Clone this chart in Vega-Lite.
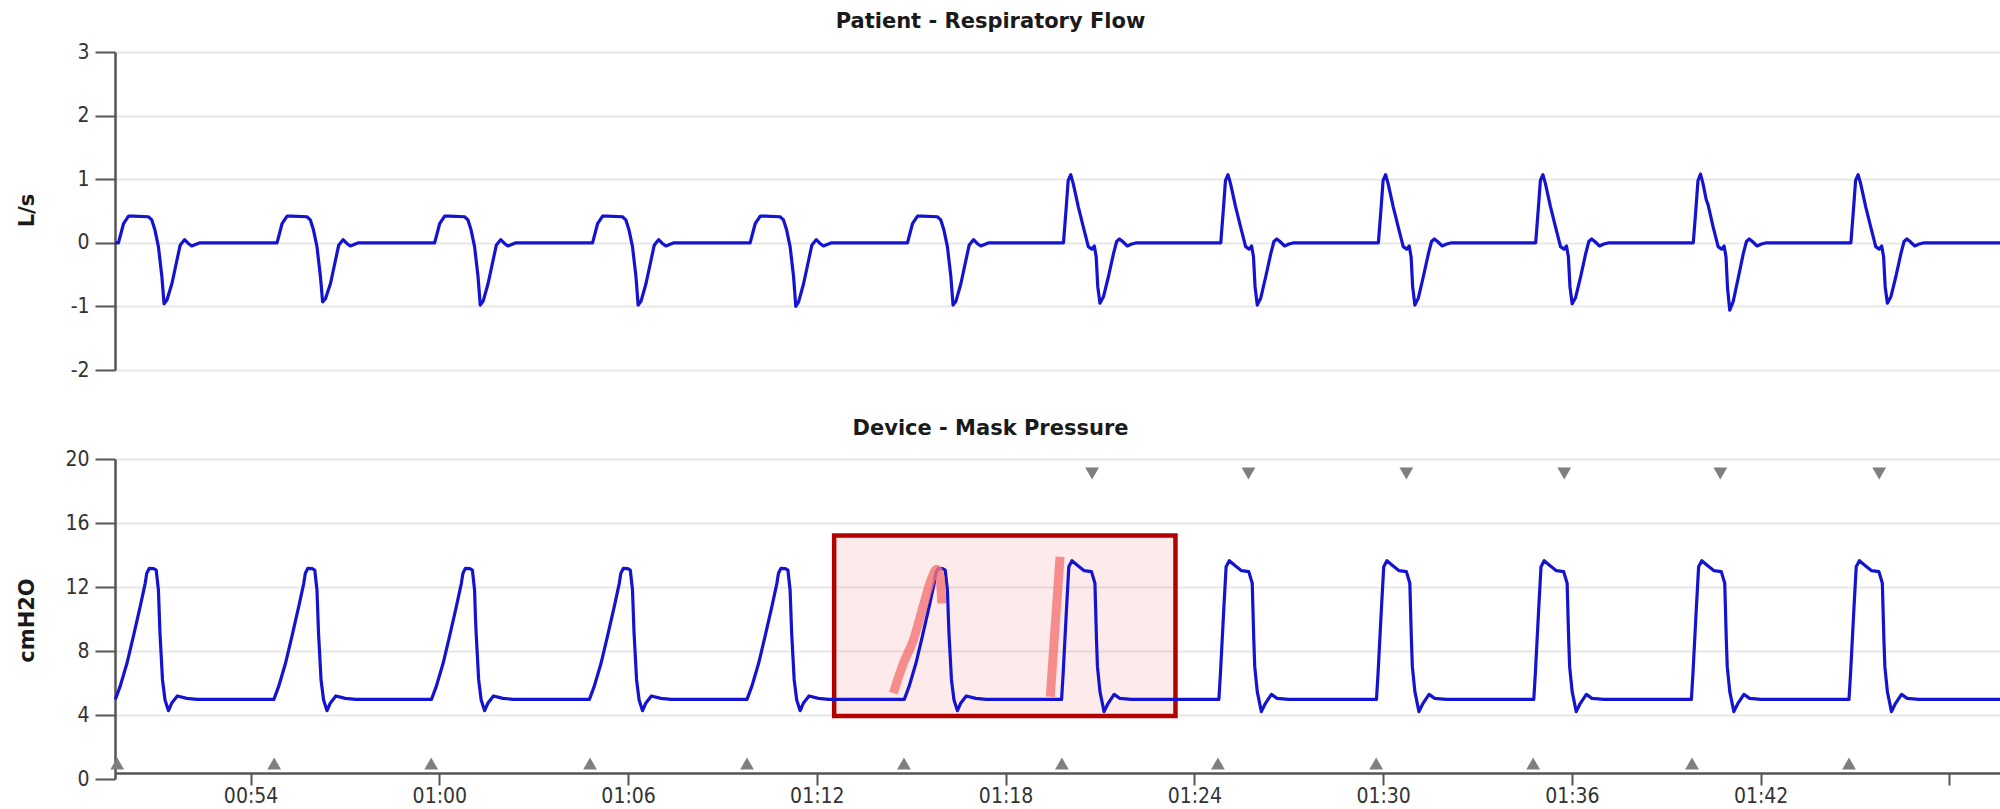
{
"$schema": "https://vega.github.io/schema/vega-lite/v6.json",
"background": "white",
"padding": {"left": 16, "top": 11, "right": 0, "bottom": 0},
"bounds": "flush",
"spacing": 89,
"datasets": {
"flow": [
{"t":49.69,"v":0},
{"t":49.80,"v":0},{"t":49.96,"v":0.30},{"t":50.12,"v":0.42},{"t":50.27,"v":0.42},{"t":50.75,"v":0.41},{"t":50.86,"v":0.36},{"t":50.96,"v":0.20},{"t":51.07,"v":-0.06},{"t":51.18,"v":-0.53},{"t":51.25,"v":-0.96},{"t":51.34,"v":-0.90},{"t":51.50,"v":-0.64},{"t":51.66,"v":-0.27},{"t":51.76,"v":-0.04},{"t":51.90,"v":0.05},{"t":52.02,"v":-0.01},{"t":52.13,"v":-0.05},{"t":52.29,"v":-0.02},{"t":52.39,"v":0},
{"t":54.84,"v":0},{"t":55.00,"v":0.30},{"t":55.16,"v":0.42},{"t":55.31,"v":0.42},{"t":55.79,"v":0.41},{"t":55.90,"v":0.36},{"t":56.00,"v":0.20},{"t":56.11,"v":-0.06},{"t":56.22,"v":-0.53},{"t":56.29,"v":-0.93},{"t":56.38,"v":-0.88},{"t":56.54,"v":-0.64},{"t":56.70,"v":-0.27},{"t":56.80,"v":-0.04},{"t":56.94,"v":0.05},{"t":57.06,"v":-0.01},{"t":57.17,"v":-0.05},{"t":57.33,"v":-0.02},{"t":57.43,"v":0},
{"t":59.85,"v":0},{"t":60.01,"v":0.30},{"t":60.17,"v":0.42},{"t":60.32,"v":0.42},{"t":60.80,"v":0.41},{"t":60.91,"v":0.36},{"t":61.01,"v":0.20},{"t":61.12,"v":-0.06},{"t":61.23,"v":-0.53},{"t":61.30,"v":-0.98},{"t":61.39,"v":-0.92},{"t":61.55,"v":-0.64},{"t":61.71,"v":-0.27},{"t":61.81,"v":-0.04},{"t":61.95,"v":0.05},{"t":62.07,"v":-0.01},{"t":62.18,"v":-0.05},{"t":62.34,"v":-0.02},{"t":62.44,"v":0},
{"t":64.87,"v":0},{"t":65.03,"v":0.30},{"t":65.19,"v":0.42},{"t":65.34,"v":0.42},{"t":65.82,"v":0.41},{"t":65.93,"v":0.36},{"t":66.03,"v":0.20},{"t":66.14,"v":-0.06},{"t":66.25,"v":-0.53},{"t":66.32,"v":-0.98},{"t":66.41,"v":-0.92},{"t":66.57,"v":-0.64},{"t":66.73,"v":-0.27},{"t":66.83,"v":-0.04},{"t":66.97,"v":0.05},{"t":67.09,"v":-0.01},{"t":67.20,"v":-0.05},{"t":67.36,"v":-0.02},{"t":67.46,"v":0},
{"t":69.88,"v":0},{"t":70.04,"v":0.30},{"t":70.20,"v":0.42},{"t":70.35,"v":0.42},{"t":70.83,"v":0.41},{"t":70.94,"v":0.36},{"t":71.04,"v":0.20},{"t":71.15,"v":-0.06},{"t":71.26,"v":-0.53},{"t":71.33,"v":-1.00},{"t":71.42,"v":-0.93},{"t":71.58,"v":-0.64},{"t":71.74,"v":-0.27},{"t":71.84,"v":-0.04},{"t":71.98,"v":0.05},{"t":72.10,"v":-0.01},{"t":72.21,"v":-0.05},{"t":72.37,"v":-0.02},{"t":72.47,"v":0},
{"t":74.88,"v":0},{"t":75.04,"v":0.30},{"t":75.20,"v":0.42},{"t":75.35,"v":0.42},{"t":75.83,"v":0.41},{"t":75.94,"v":0.36},{"t":76.04,"v":0.20},{"t":76.15,"v":-0.06},{"t":76.26,"v":-0.53},{"t":76.33,"v":-0.98},{"t":76.42,"v":-0.92},{"t":76.58,"v":-0.64},{"t":76.74,"v":-0.27},{"t":76.84,"v":-0.04},{"t":76.98,"v":0.05},{"t":77.10,"v":-0.01},{"t":77.21,"v":-0.05},{"t":77.37,"v":-0.02},{"t":77.47,"v":0},
{"t":79.84,"v":0},{"t":79.92,"v":0.51},{"t":79.99,"v":0.98},{"t":80.07,"v":1.07},{"t":80.15,"v":0.93},{"t":80.31,"v":0.57},{"t":80.47,"v":0.25},{"t":80.63,"v":-0.06},{"t":80.74,"v":-0.10},{"t":80.82,"v":-0.05},{"t":80.88,"v":-0.22},{"t":80.93,"v":-0.69},{"t":81.00,"v":-0.95},{"t":81.11,"v":-0.85},{"t":81.27,"v":-0.53},{"t":81.43,"v":-0.17},{"t":81.53,"v":0.02},{"t":81.62,"v":0.06},{"t":81.72,"v":0.02},{"t":81.87,"v":-0.05},{"t":82.01,"v":-0.02},{"t":82.17,"v":0},
{"t":84.84,"v":0},{"t":84.92,"v":0.51},{"t":84.99,"v":0.98},{"t":85.07,"v":1.07},{"t":85.15,"v":0.93},{"t":85.31,"v":0.57},{"t":85.47,"v":0.25},{"t":85.63,"v":-0.06},{"t":85.74,"v":-0.10},{"t":85.82,"v":-0.05},{"t":85.88,"v":-0.22},{"t":85.93,"v":-0.69},{"t":86.00,"v":-0.98},{"t":86.11,"v":-0.87},{"t":86.27,"v":-0.53},{"t":86.43,"v":-0.17},{"t":86.53,"v":0.02},{"t":86.62,"v":0.06},{"t":86.72,"v":0.02},{"t":86.87,"v":-0.05},{"t":87.01,"v":-0.02},{"t":87.17,"v":0},
{"t":89.85,"v":0},{"t":89.93,"v":0.51},{"t":90.00,"v":0.98},{"t":90.08,"v":1.07},{"t":90.16,"v":0.93},{"t":90.32,"v":0.57},{"t":90.48,"v":0.25},{"t":90.64,"v":-0.06},{"t":90.75,"v":-0.10},{"t":90.83,"v":-0.05},{"t":90.89,"v":-0.22},{"t":90.94,"v":-0.69},{"t":91.01,"v":-0.98},{"t":91.12,"v":-0.87},{"t":91.28,"v":-0.53},{"t":91.44,"v":-0.17},{"t":91.54,"v":0.02},{"t":91.63,"v":0.06},{"t":91.73,"v":0.02},{"t":91.88,"v":-0.05},{"t":92.02,"v":-0.02},{"t":92.18,"v":0},
{"t":94.85,"v":0},{"t":94.93,"v":0.51},{"t":95.00,"v":0.98},{"t":95.08,"v":1.07},{"t":95.16,"v":0.93},{"t":95.32,"v":0.57},{"t":95.48,"v":0.25},{"t":95.64,"v":-0.06},{"t":95.75,"v":-0.10},{"t":95.83,"v":-0.05},{"t":95.89,"v":-0.22},{"t":95.94,"v":-0.69},{"t":96.01,"v":-0.96},{"t":96.12,"v":-0.86},{"t":96.28,"v":-0.53},{"t":96.44,"v":-0.17},{"t":96.54,"v":0.02},{"t":96.63,"v":0.06},{"t":96.73,"v":0.02},{"t":96.88,"v":-0.05},{"t":97.02,"v":-0.02},{"t":97.18,"v":0},
{"t":99.86,"v":0},{"t":99.94,"v":0.51},{"t":100.01,"v":0.98},{"t":100.09,"v":1.08},{"t":100.17,"v":0.93},{"t":100.27,"v":0.68},{"t":100.33,"v":0.60},{"t":100.49,"v":0.25},{"t":100.65,"v":-0.06},{"t":100.76,"v":-0.10},{"t":100.84,"v":-0.05},{"t":100.90,"v":-0.22},{"t":100.95,"v":-0.72},{"t":101.02,"v":-1.06},{"t":101.13,"v":-0.92},{"t":101.29,"v":-0.55},{"t":101.45,"v":-0.17},{"t":101.55,"v":0.02},{"t":101.64,"v":0.06},{"t":101.74,"v":0.02},{"t":101.89,"v":-0.05},{"t":102.03,"v":-0.02},{"t":102.19,"v":0},
{"t":104.87,"v":0},{"t":104.95,"v":0.51},{"t":105.02,"v":0.98},{"t":105.10,"v":1.07},{"t":105.18,"v":0.93},{"t":105.34,"v":0.57},{"t":105.50,"v":0.25},{"t":105.66,"v":-0.06},{"t":105.77,"v":-0.10},{"t":105.85,"v":-0.05},{"t":105.91,"v":-0.22},{"t":105.96,"v":-0.69},{"t":106.03,"v":-0.95},{"t":106.14,"v":-0.85},{"t":106.30,"v":-0.53},{"t":106.46,"v":-0.17},{"t":106.56,"v":0.02},{"t":106.65,"v":0.06},{"t":106.75,"v":0.02},{"t":106.90,"v":-0.05},{"t":107.04,"v":-0.02},{"t":107.20,"v":0},
{"t":109.61,"v":0}
],
"pressure": [
{"t":49.70,"v":4.98},{"t":49.85,"v":5.77},{"t":50.07,"v":7.23},{"t":50.27,"v":8.89},{"t":50.49,"v":10.77},{"t":50.65,"v":12.23},{"t":50.70,"v":12.86},{"t":50.78,"v":13.17},{"t":50.92,"v":13.15},{"t":51.00,"v":13.06},{"t":51.07,"v":11.81},{"t":51.12,"v":9.11},{"t":51.20,"v":6.19},{"t":51.28,"v":4.94},{"t":51.39,"v":4.27},{"t":51.49,"v":4.73},{"t":51.67,"v":5.19},{"t":51.97,"v":5.04},{"t":52.30,"v":4.98},
{"t":54.74,"v":4.98},{"t":54.89,"v":5.77},{"t":55.11,"v":7.23},{"t":55.31,"v":8.89},{"t":55.53,"v":10.77},{"t":55.69,"v":12.23},{"t":55.74,"v":12.86},{"t":55.82,"v":13.17},{"t":55.96,"v":13.15},{"t":56.04,"v":13.06},{"t":56.11,"v":11.81},{"t":56.16,"v":9.11},{"t":56.24,"v":6.19},{"t":56.32,"v":4.94},{"t":56.43,"v":4.27},{"t":56.53,"v":4.73},{"t":56.71,"v":5.19},{"t":57.01,"v":5.04},{"t":57.34,"v":4.98},
{"t":59.75,"v":4.98},{"t":59.90,"v":5.77},{"t":60.12,"v":7.23},{"t":60.32,"v":8.89},{"t":60.54,"v":10.77},{"t":60.70,"v":12.23},{"t":60.75,"v":12.86},{"t":60.83,"v":13.17},{"t":60.97,"v":13.15},{"t":61.05,"v":13.06},{"t":61.12,"v":11.81},{"t":61.15,"v":10.0},{"t":61.17,"v":9.11},{"t":61.25,"v":6.19},{"t":61.33,"v":4.94},{"t":61.44,"v":4.27},{"t":61.54,"v":4.73},{"t":61.72,"v":5.19},{"t":62.02,"v":5.04},{"t":62.35,"v":4.98},
{"t":64.77,"v":4.98},{"t":64.92,"v":5.77},{"t":65.14,"v":7.23},{"t":65.34,"v":8.89},{"t":65.56,"v":10.77},{"t":65.72,"v":12.23},{"t":65.77,"v":12.86},{"t":65.85,"v":13.17},{"t":65.99,"v":13.15},{"t":66.07,"v":13.06},{"t":66.14,"v":11.81},{"t":66.19,"v":9.11},{"t":66.27,"v":6.19},{"t":66.35,"v":4.94},{"t":66.46,"v":4.27},{"t":66.56,"v":4.73},{"t":66.74,"v":5.19},{"t":67.04,"v":5.04},{"t":67.37,"v":4.98},
{"t":69.78,"v":4.98},{"t":69.93,"v":5.77},{"t":70.15,"v":7.23},{"t":70.35,"v":8.89},{"t":70.57,"v":10.77},{"t":70.73,"v":12.23},{"t":70.78,"v":12.86},{"t":70.86,"v":13.17},{"t":71.00,"v":13.15},{"t":71.08,"v":13.06},{"t":71.15,"v":11.81},{"t":71.20,"v":9.11},{"t":71.28,"v":6.19},{"t":71.36,"v":4.94},{"t":71.47,"v":4.27},{"t":71.57,"v":4.73},{"t":71.75,"v":5.19},{"t":72.05,"v":5.04},{"t":72.38,"v":4.98},
{"t":74.78,"v":4.98},{"t":74.93,"v":5.77},{"t":75.15,"v":7.23},{"t":75.35,"v":8.89},{"t":75.57,"v":10.77},{"t":75.73,"v":12.23},{"t":75.78,"v":12.86},{"t":75.86,"v":13.17},{"t":76.00,"v":13.15},{"t":76.08,"v":13.06},{"t":76.15,"v":11.81},{"t":76.20,"v":9.11},{"t":76.28,"v":6.19},{"t":76.36,"v":4.94},{"t":76.47,"v":4.27},{"t":76.57,"v":4.73},{"t":76.75,"v":5.19},{"t":77.05,"v":5.04},{"t":77.38,"v":4.98},
{"t":79.78,"v":4.98},{"t":79.83,"v":6.61},{"t":79.94,"v":10.77},{"t":80.01,"v":13.27},{"t":80.11,"v":13.64},{"t":80.31,"v":13.31},{"t":80.50,"v":13.02},{"t":80.73,"v":12.96},{"t":80.84,"v":12.23},{"t":80.89,"v":8.69},{"t":80.92,"v":7.02},{"t":81.00,"v":5.46},{"t":81.13,"v":4.21},{"t":81.26,"v":4.73},{"t":81.45,"v":5.29},{"t":81.63,"v":5.04},{"t":82.00,"v":4.98},
{"t":84.78,"v":4.98},{"t":84.83,"v":6.61},{"t":84.94,"v":10.77},{"t":85.01,"v":13.27},{"t":85.11,"v":13.64},{"t":85.31,"v":13.31},{"t":85.50,"v":13.02},{"t":85.73,"v":12.96},{"t":85.84,"v":12.23},{"t":85.89,"v":8.69},{"t":85.92,"v":7.02},{"t":86.00,"v":5.46},{"t":86.13,"v":4.21},{"t":86.26,"v":4.73},{"t":86.45,"v":5.29},{"t":86.63,"v":5.04},{"t":87.00,"v":4.98},
{"t":89.79,"v":4.98},{"t":89.84,"v":6.61},{"t":89.95,"v":10.77},{"t":90.02,"v":13.27},{"t":90.12,"v":13.64},{"t":90.32,"v":13.31},{"t":90.51,"v":13.02},{"t":90.74,"v":12.96},{"t":90.85,"v":12.23},{"t":90.90,"v":8.69},{"t":90.93,"v":7.02},{"t":91.01,"v":5.46},{"t":91.14,"v":4.21},{"t":91.27,"v":4.73},{"t":91.46,"v":5.29},{"t":91.64,"v":5.04},{"t":92.01,"v":4.98},
{"t":94.79,"v":4.98},{"t":94.84,"v":6.61},{"t":94.95,"v":10.77},{"t":95.02,"v":13.27},{"t":95.12,"v":13.64},{"t":95.32,"v":13.31},{"t":95.51,"v":13.02},{"t":95.74,"v":12.96},{"t":95.85,"v":12.23},{"t":95.90,"v":8.69},{"t":95.93,"v":7.02},{"t":96.01,"v":5.46},{"t":96.14,"v":4.21},{"t":96.27,"v":4.73},{"t":96.46,"v":5.29},{"t":96.64,"v":5.04},{"t":97.01,"v":4.98},
{"t":99.80,"v":4.98},{"t":99.85,"v":6.61},{"t":99.96,"v":10.77},{"t":100.03,"v":13.27},{"t":100.13,"v":13.64},{"t":100.33,"v":13.31},{"t":100.52,"v":13.02},{"t":100.75,"v":12.96},{"t":100.86,"v":12.23},{"t":100.91,"v":8.69},{"t":100.94,"v":7.02},{"t":101.02,"v":5.46},{"t":101.15,"v":4.21},{"t":101.28,"v":4.73},{"t":101.47,"v":5.29},{"t":101.65,"v":5.04},{"t":102.02,"v":4.98},
{"t":104.81,"v":4.98},{"t":104.86,"v":6.61},{"t":104.97,"v":10.77},{"t":105.04,"v":13.27},{"t":105.14,"v":13.64},{"t":105.34,"v":13.31},{"t":105.53,"v":13.02},{"t":105.76,"v":12.96},{"t":105.87,"v":12.23},{"t":105.92,"v":8.69},{"t":105.95,"v":7.02},{"t":106.03,"v":5.46},{"t":106.16,"v":4.21},{"t":106.29,"v":4.73},{"t":106.48,"v":5.29},{"t":106.66,"v":5.04},{"t":107.03,"v":4.98},
{"t":109.61,"v":4.98}
],
"box": [{"t0":72.55,"t1":83.40,"p0":3.94,"p1":15.22}],
"marks": [
{"seg":"a","t":74.43,"v":5.36},{"seg":"a","t":74.75,"v":7.23},{"seg":"a","t":75.07,"v":8.69},{"seg":"a","t":75.39,"v":10.88},{"seg":"a","t":75.65,"v":12.54},{"seg":"a","t":75.81,"v":13.11},{"seg":"a","t":75.92,"v":12.64},{"seg":"a","t":75.97,"v":10.98},
{"seg":"b","t":79.42,"v":5.14},{"seg":"b","t":79.73,"v":13.89}
],
"up": [{"t":49.76,"v":0.97},{"t":54.75,"v":0.97},{"t":59.74,"v":0.97},{"t":64.79,"v":0.97},{"t":69.78,"v":0.97},{"t":74.77,"v":0.97},{"t":79.79,"v":0.97},{"t":84.75,"v":0.97},{"t":89.78,"v":0.97},{"t":94.77,"v":0.97},{"t":99.82,"v":0.97},{"t":104.81,"v":0.97}],
"down": [{"t":80.75,"v":19.09},{"t":85.72,"v":19.09},{"t":90.74,"v":19.09},{"t":95.76,"v":19.09},{"t":100.72,"v":19.09},{"t":105.77,"v":19.09}]
},
"vconcat": [
{
"width": 1885, "height": 318,
"title": {"text": "Patient - Respiratory Flow", "dx": -67},
"data": {"name": "flow"},
"mark": {"type": "line", "color": "#1414d0", "strokeWidth": 3.2, "strokeJoin": "round"},
"encoding": {
"x": {"field": "t", "type": "quantitative", "scale": {"domain": [49.69, 109.61], "nice": false, "zero": false}, "axis": null},
"y": {"field": "v", "type": "quantitative", "scale": {"domain": [-2, 3], "nice": false, "zero": false},
"axis": {"title": "L/s", "values": [-2, -1, 0, 1, 2, 3], "labelExpr": "'' + datum.value", "titleX": -88, "titleY": 158, "titleBaseline": "middle", "titleAngle": 270}}
}
},
{
"width": 1885, "height": 320,
"title": {"text": "Device - Mask Pressure", "dx": -67},
"layer": [
{
"data": {"name": "box"},
"mark": {"type": "rect", "fill": "#e00000", "fillOpacity": 0.08, "stroke": "#b30000", "strokeWidth": 4.5},
"encoding": {
"x": {"field": "t0", "type": "quantitative", "scale": {"domain": [49.69, 109.61], "nice": false, "zero": false},
"axis": {"title": null, "values": [54, 60, 66, 72, 78, 84, 90, 96, 102, 108], "offset": -6, "tickSize": 12, "labelPadding": 0, "grid": false,
"labelExpr": "datum.value >= 108 ? '' : (floor(datum.value/60) < 10 ? '0' : '') + floor(datum.value/60) + ':' + ((datum.value % 60) < 10 ? '0' : '') + (datum.value % 60)"}},
"x2": {"field": "t1"},
"y": {"field": "p0", "type": "quantitative", "scale": {"domain": [0, 20], "nice": false, "zero": false},
"axis": {"title": "cmH2O", "values": [0, 4, 8, 12, 16, 20], "titleX": -88, "titleY": 161, "titleBaseline": "middle", "titleAngle": 270,
"gridOpacity": {"condition": {"test": "datum.value === 0", "value": 0}, "value": 1}}},
"y2": {"field": "p1"}
}
},
{
"data": {"name": "pressure"},
"mark": {"type": "line", "color": "#1414d0", "strokeWidth": 3.2, "strokeJoin": "round"},
"encoding": {
"x": {"field": "t", "type": "quantitative"},
"y": {"field": "v", "type": "quantitative"}
}
},
{
"data": {"name": "marks"},
"mark": {"type": "line", "color": "#f47474", "opacity": 0.8, "strokeWidth": 9, "strokeCap": "butt", "interpolate": "monotone"},
"encoding": {
"x": {"field": "t", "type": "quantitative"},
"y": {"field": "v", "type": "quantitative"},
"detail": {"field": "seg"}
}
},
{
"data": {"name": "up"},
"mark": {"type": "point", "shape": "triangle-up", "filled": true, "size": 190, "color": "#7f7f7f", "opacity": 1},
"encoding": {
"x": {"field": "t", "type": "quantitative"},
"y": {"field": "v", "type": "quantitative"}
}
},
{
"data": {"name": "down"},
"mark": {"type": "point", "shape": "triangle-down", "filled": true, "size": 190, "color": "#7f7f7f", "opacity": 1},
"encoding": {
"x": {"field": "t", "type": "quantitative"},
"y": {"field": "v", "type": "quantitative"}
}
}
]
}
],
"config": {
"view": {"stroke": null},
"axis": {
"domainColor": "#555555", "domainWidth": 2.5, "tickColor": "#555555", "tickWidth": 2,
"labelFont": "Liberation Sans Narrow, DejaVu Sans Condensed, sans-serif", "labelFontSize": 21, "labelColor": "#333333",
"titleFont": "DejaVu Sans", "titleFontSize": 21, "titleFontWeight": "bold", "titleColor": "#1a1a1a",
"gridColor": "#e8e8e8", "gridWidth": 2
},
"axisY": {"tickSize": 20, "labelPadding": 6},
"title": {"font": "DejaVu Sans", "fontSize": 21, "fontWeight": "bold", "color": "#1a1a1a", "anchor": "middle", "baseline": "alphabetic", "offset": 9}
}
}
